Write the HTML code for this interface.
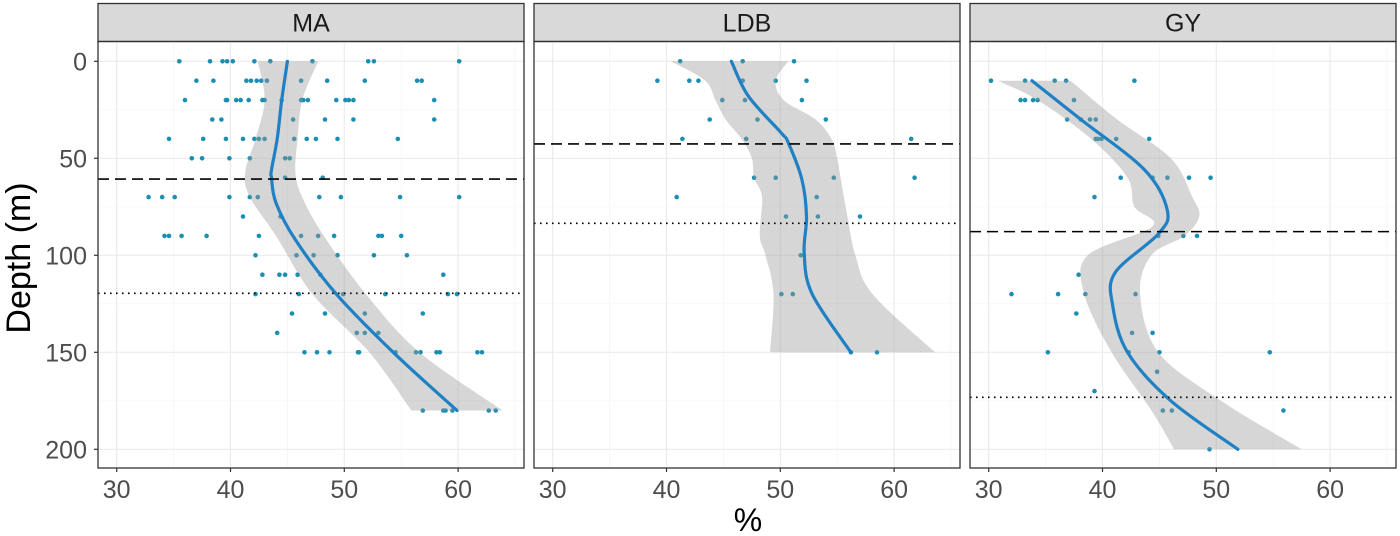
<!DOCTYPE html>
<html><head><meta charset="utf-8">
<style>
html,body{margin:0;padding:0;background:#fff;}
svg{display:block;font-family:"Liberation Sans",Arial,sans-serif;}
</style></head>
<body>
<svg id="chart" width="1400" height="536" viewBox="0 0 1400 536" xmlns="http://www.w3.org/2000/svg">
<text x="0" y="0" transform="translate(30,258) rotate(-90)" text-anchor="middle" font-size="34" fill="#000">Depth (m)</text>
<text x="748" y="531" text-anchor="middle" font-size="32" fill="#000">%</text>
</svg>
<script>
const panelNames = ["MA","LDB","GY"];
const xTicks = [30,40,50,60];
const yTicks = [0,50,100,150,200];
// MA points [value %, depth m]
const maPts = [[35.5,0],[38.2,0],[39.3,0],[39.7,0],[40.2,0],[42.1,0],[43.5,0],[47.2,0],[52.1,0],[52.6,0],[60.1,0],
[37.0,10],[38.5,10],[41.4,10],[41.8,10],[42.3,10],[42.7,10],[43.2,10],[46.2,10],[48.5,10],[51.8,10],[56.4,10],[56.8,10],
[36.0,20],[39.6,20],[39.7,20],[40.5,20],[40.9,20],[41.6,20],[42.8,20],[43.0,20],[44.5,20],[46.2,20],[46.4,20],[46.8,20],[49.3,20],[50.1,20],[50.4,20],[50.8,20],[57.9,20],
[38.4,30],[39.2,30],[45.5,30],[48.3,30],[50.8,30],[57.9,30],
[34.6,40],[37.6,40],[39.6,40],[41.1,40],[42.1,40],[42.5,40],[43.0,40],[45.6,40],[46.7,40],[47.5,40],[49.4,40],[54.7,40],
[36.6,50],[37.5,50],[39.9,50],[41.7,50],[44.8,50],[45.2,50],
[44.8,60],[48.1,60],
[32.8,70],[34.0,70],[35.1,70],[39.9,70],[41.7,70],[42.4,70],[47.8,70],[49.7,70],[54.9,70],[60.1,70],
[41.1,80],[44.4,80],
[34.2,90],[34.6,90],[35.7,90],[37.9,90],[42.5,90],[46.2,90],[47.7,90],[49.1,90],[53.0,90],[53.3,90],[55.0,90],
[42.2,100],[45.8,100],[47.3,100],[49.4,100],[52.6,100],[55.5,100],
[42.8,110],[44.3,110],[44.8,110],[45.9,110],[47.9,110],[58.7,110],
[42.2,120],[46.0,120],[49.9,120],[53.6,120],[59.1,120],[59.9,120],
[45.4,130],[48.3,130],[51.8,130],[56.9,130],
[44.1,140],[51.1,140],[51.8,140],[53.0,140],
[46.5,150],[47.6,150],[48.7,150],[51.2,150],[51.3,150],[54.5,150],[56.3,150],[56.7,150],[58.1,150],[58.4,150],[61.7,150],[62.1,150],
[56.9,180],[58.7,180],[58.9,180],[59.5,180],[62.7,180],[63.3,180]];
const maFit = [[45.0,0],[44.5,20],[44.1,40],[43.6,56],[43.6,60],[44.0,73],[45.7,92],[49.3,120],[54.3,150],[59.9,180]];
const maLower = [[42.4,0],[43.0,20],[42.2,40],[41.3,57],[41.7,70],[44.0,90],[47.2,120],[52.2,150],[55.9,180]];
const maUpper = [[47.7,0],[46.3,20],[45.9,40],[45.7,57],[46.3,70],[48.2,90],[51.9,120],[56.6,150],[63.9,180]];
const ldbPts = [[41.2,0],[46.7,0],[51.2,0],[39.2,10],[42.0,10],[42.8,10],[46.7,10],[49.6,10],[52.3,10],
[44.9,20],[46.9,20],[51.9,20],[43.8,30],[48.0,30],[54.0,30],[41.4,40],[47.0,40],[61.5,40],
[47.7,60],[49.6,60],[54.7,60],[61.8,60],[40.9,70],[53.2,70],[50.5,80],[53.3,80],[57.0,80],
[51.8,100],[50.1,120],[51.1,120],[56.2,150],[58.5,150]];
const ldbFit = [[45.7,0],[47.2,18],[50.1,37],[50.7,42],[51.9,61],[52.3,80],[52.1,99],[52.8,120],[56.2,150]];
const ldbLower = [[40.4,0],[43.4,10],[44.3,20],[45.2,30],[46.6,40],[47.5,50],[47.7,60],[48.4,70],[48.2,90],[48.7,100],[49.4,120],[49.1,150]];
const ldbUpper = [[50.7,0],[49.6,10],[50.3,20],[53.1,30],[54.5,40],[55.0,50],[55.3,60],[55.9,80],[56.6,100],[58.1,120],[63.6,150]];
const gyPts = [[30.2,10],[33.2,10],[35.8,10],[36.8,10],[42.8,10],[32.8,20],[33.2,20],[33.9,20],[34.3,20],[37.5,20],
[36.9,30],[38.1,30],[38.9,30],[39.4,30],[39.4,40],[39.6,40],[39.9,40],[41.2,40],[44.1,40],
[41.6,60],[44.4,60],[45.7,60],[47.6,60],[49.5,60],[39.3,70],[44.9,90],[47.1,90],[48.3,90],
[37.9,110],[32.0,120],[36.1,120],[38.5,120],[42.9,120],[37.7,130],[42.6,140],[44.4,140],
[35.2,150],[42.3,150],[45.0,150],[54.7,150],[44.8,160],[39.3,170],[45.3,180],[46.1,180],[55.9,180],[49.4,200]];
const gyFit = [[33.8,10],[38.1,30],[43.7,56],[45.7,77],[44.9,89],[41.1,109],[40.9,126],[42.2,150],[46.0,175],[51.9,200]];
const gyLower = [[30.8,10],[34.3,20],[39.0,40],[42.2,60],[42.8,75],[44.4,85],[38.7,100],[38.4,120],[40.8,150],[44.3,180],[46.3,200]];
const gyUpper = [[37.2,10],[41.3,30],[46.0,50],[47.9,70],[48.5,80],[47.2,90],[44.3,100],[43.3,120],[44.9,150],[50.4,175],[57.5,200]];
const dashedDepth = [60.7,42.6,87.8];
const dottedDepth = [119.6,83.5,173.2];

const allPts=[maPts,ldbPts,gyPts], allFit=[maFit,ldbFit,gyFit], allLo=[maLower,ldbLower,gyLower], allUp=[maUpper,ldbUpper,gyUpper];
const NS="http://www.w3.org/2000/svg";
const svg=document.getElementById('chart');
const PL=[98,534,970], PW=426, PT=41.5, PB=468;
function xs(i,v){return PL[i]+18.7+(v-30)*11.38;}
function ys(d){return 61.3+d*1.94;}
function mk(tag,attrs,parent){const e=document.createElementNS(NS,tag);for(const k in attrs)e.setAttribute(k,attrs[k]);(parent||svg).appendChild(e);return e;}
function smoothPath(pts){let d='';for(let k=0;k<pts.length;k++){d+=(k?'L':'M')+pts[k][0].toFixed(1)+','+pts[k][1].toFixed(1);}return d;}
function catmull(pts){if(pts.length<3)return smoothPath(pts);let d='M'+pts[0][0]+','+pts[0][1];for(let k=0;k<pts.length-1;k++){const p0=pts[k-1]||pts[k],p1=pts[k],p2=pts[k+1],p3=pts[k+2]||p2;const c1=[p1[0]+(p2[0]-p0[0])/6,p1[1]+(p2[1]-p0[1])/6],c2=[p2[0]-(p3[0]-p1[0])/6,p2[1]-(p3[1]-p1[1])/6];d+='C'+c1[0].toFixed(1)+','+c1[1].toFixed(1)+' '+c2[0].toFixed(1)+','+c2[1].toFixed(1)+' '+p2[0].toFixed(1)+','+p2[1].toFixed(1);}return d;}

for(let i=0;i<3;i++){
  const g=mk('g',{});
  
  
  const strip=mk('rect',{x:PL[i],y:3.5,width:PW,height:38,fill:'#d9d9d9',stroke:'#333','stroke-width':1.3},g);
  
  
  const st=mk('text',{x:PL[i]+PW/2,y:31.5,'text-anchor':'middle','font-size':25,fill:'#1a1a1a'},g);
  st.textContent=panelNames[i];
  
  
  for(let v=30;v<=65;v+=5){const x=xs(i,v);const l=mk('line',{x1:x,x2:x,y1:PT,y2:PB,stroke:v%10===0?'#ebebeb':'#f4f4f4','stroke-width':v%10===0?1.2:0.7},g);
    
    }
  for(let d=0;d<=200;d+=25){const y=ys(d);const l=mk('line',{x1:PL[i],x2:PL[i]+PW,y1:y,y2:y,stroke:d%50===0?'#ebebeb':'#f4f4f4','stroke-width':d%50===0?1.2:0.7},g);
    
    }
  allPts[i].forEach(p=>{const c=mk('circle',{cx:xs(i,p[0]).toFixed(1),cy:ys(p[1]).toFixed(1),r:2.3,fill:'#1b8fb2'},g);
    
    });
  const up=allUp[i].map(p=>[xs(i,p[0]),ys(p[1])]);
  const lo=allLo[i].map(p=>[xs(i,p[0]),ys(p[1])]).reverse();
  let bd=catmull(up);bd+='L'+lo[0][0].toFixed(1)+','+lo[0][1].toFixed(1)+catmull(lo).replace(/^M[^C]*/,'')+'Z';
  const band=mk('path',{d:bd,fill:'#999999','fill-opacity':0.4,stroke:'none'},g);
  
  
  const fit=mk('path',{d:catmull(allFit[i].map(p=>[xs(i,p[0]),ys(p[1])])),fill:'none',stroke:'#1f80c4','stroke-width':3.2,'stroke-linecap':'round'},g);
  
  
  const dl=mk('line',{x1:PL[i],x2:PL[i]+PW,y1:ys(dashedDepth[i]),y2:ys(dashedDepth[i]),stroke:'#000','stroke-width':1.6,'stroke-dasharray':'11,6'},g);
  
  
  const ol=mk('line',{x1:PL[i],x2:PL[i]+PW,y1:ys(dottedDepth[i]),y2:ys(dottedDepth[i]),stroke:'#000','stroke-width':1.6,'stroke-dasharray':'1.6,4.4'},g);
  
  
  const fr=mk('rect',{x:PL[i],y:PT,width:PW,height:PB-PT,fill:'none',stroke:'#333','stroke-width':1.3},g);
  
  
  xTicks.forEach(v=>{const x=xs(i,v);mk('line',{x1:x,x2:x,y1:PB,y2:PB+4,stroke:'#333','stroke-width':1.2},g);
    const t=mk('text',{x:x,y:498,'text-anchor':'middle','font-size':25,fill:'#4d4d4d'},g);
    t.textContent=v;
    
    });
}
yTicks.forEach(d=>{const y=ys(d);mk('line',{x1:94,x2:98,y1:y,y2:y,stroke:'#333','stroke-width':1.2});
  const t=mk('text',{x:87,y:y+9,'text-anchor':'end','font-size':25,fill:'#4d4d4d'});
  t.textContent=d;
  
  });
</script>
</body></html>
